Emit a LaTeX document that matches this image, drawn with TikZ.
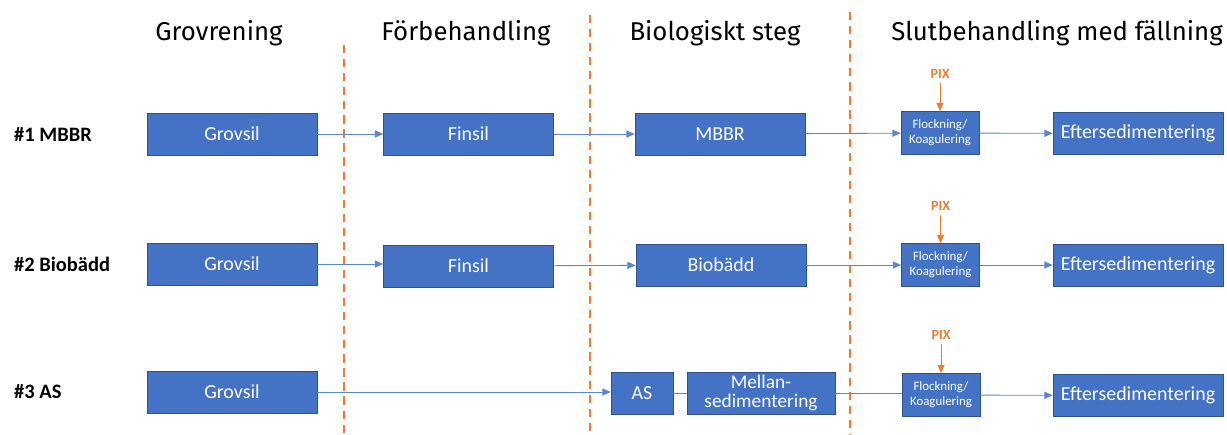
\documentclass[tikz,border=0pt]{standalone}
\usepackage{fontspec}
\setmainfont{Carlito}
\newfontfamily\headfont{Fira Sans}
\usetikzlibrary{arrows.meta}
\definecolor{boxblue}{HTML}{4472C4}
\definecolor{boxedge}{HTML}{2F528F}
\definecolor{linkblue}{HTML}{5B86D0}
\definecolor{orng}{HTML}{ED7D31}
\tikzset{
  box/.style={draw=boxedge, line width=0.6pt, fill=boxblue, text=white, inner sep=0pt, align=center, font=\fontsize{17}{19}\selectfont},
  wide/.style={minimum width=5.1cm, minimum height=1.26cm},
  flock/.style={minimum width=2.34cm, minimum height=1.29cm, font=\fontsize{11}{13}\selectfont},
  link/.style={draw=linkblue, line width=0.7pt},
  arr/.style={link, -{Triangle[length=7pt,width=6pt]}},
  pixarr/.style={draw=orng, line width=0.7pt, -{Triangle[length=7pt,width=6pt]}},
  pix/.style={text=orng, font=\bfseries\fontsize{12}{13}\selectfont},
  rowlab/.style={anchor=west, font=\bfseries\fontsize{17.5}{19}\selectfont},
  head/.style={font=\headfont\fontsize{22}{24}\selectfont},
  sep/.style={draw=orng, line width=1.8pt, dash pattern=on 7pt off 5pt}
}
\begin{document}
\begin{tikzpicture}[x=0.03cm,y=-0.03cm]
\useasboundingbox (0,0) rectangle (1227,434);
% separators
\draw[sep] (344,45) -- (344,434);
\draw[sep] (590,15) -- (590,434);
\draw[sep] (850,12) -- (850,434);
% headings
\node[head] (h1) at (219,33) {Grovrening};
\node[head] (h2) at (466,33) {Förbehandling};
\node[head] (h3) at (715,33) {Biologiskt steg};
\node[head] (h4) at (1057,33) {Slutbehandling med fällning};
% row labels
\node[rowlab] (r1) at (10,134) {\#1 MBBR};
\node[rowlab] (r2) at (10,264) {\#2 Biobädd};
\node[rowlab] (r3) at (10,392) {\#3 AS};
% row 1
\node[box,wide] (g1) at (232,134) {Grovsil};
\node[box,wide] (f1) at (468.5,134) {Finsil};
\node[box,wide] (b1) at (720,134) {MBBR};
\node[box,flock] (k1) at (940,133) {Flockning/\\Koagulering};
\node[box,wide] (e1) at (1138,133.5) {Eftersedimentering};
\node[pix] (p1) at (940,74) {PIX};
\draw[arr] (g1) -- (f1);
\draw[arr] (f1) -- (b1);
\draw[arr] (b1) -- (k1);
\draw[arr] (k1) -- (e1);
\draw[pixarr] (p1.south) -- (k1.north);
% row 2
\node[box,wide] (g2) at (232,264) {Grovsil};
\node[box,wide] (f2) at (468.5,266) {Finsil};
\node[box,wide] (b2) at (721,265) {Biobädd};
\node[box,flock] (k2) at (940.5,265) {Flockning/\\Koagulering};
\node[box,wide] (e2) at (1138,265) {Eftersedimentering};
\node[pix] (p2) at (940.5,206) {PIX};
\draw[arr] (g2.east) -- (g2.east -| f2.west);
\draw[arr] (f2) -- (b2);
\draw[arr] (b2) -- (k2);
\draw[arr] (k2) -- (e2);
\draw[pixarr] (p2.south) -- (k2.north);
% row 3
\node[box,wide] (g3) at (232,392) {Grovsil};
\node[box,minimum width=1.86cm,minimum height=1.26cm] (a3) at (642,393) {AS};
\node[box,minimum width=4.44cm,minimum height=1.26cm,font=\fontsize{16.5}{16}\selectfont] (m3) at (761,393) {Mellan-\\sedimentering};
\node[box,flock] (k3) at (941,395) {Flockning/\\Koagulering};
\node[box,wide] (e3) at (1138,395.5) {Eftersedimentering};
\node[pix] (p3) at (941,335) {PIX};
\draw[arr] (g3.east) -- (g3.east -| a3.west);
\draw[link] (a3) -- (m3);
\draw[link] (m3.east) -- (m3.east -| k3.west);
\draw[arr] (k3) -- (e3);
\draw[pixarr] (p3.south) -- (k3.north);
\end{tikzpicture}
\end{document}
